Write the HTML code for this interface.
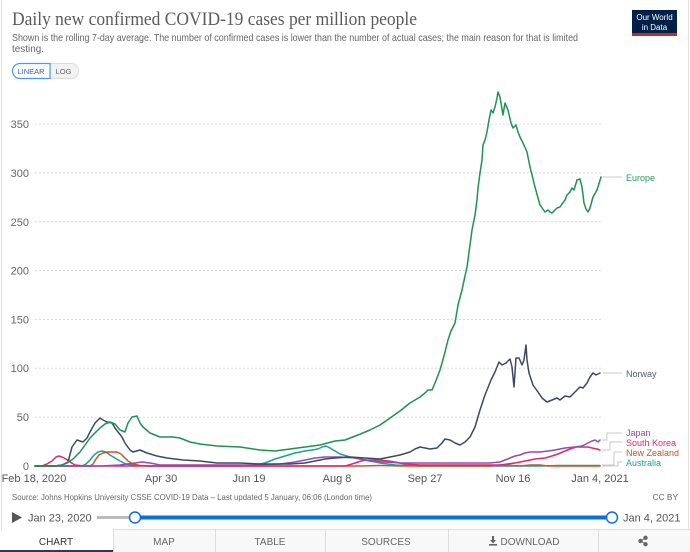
<!DOCTYPE html>
<html><head><meta charset="utf-8">
<style>
html,body{margin:0;padding:0;background:#fff;}
svg{display:block;font-family:"Liberation Sans",sans-serif;}
</style></head>
<body>
<svg width="690" height="552" viewBox="0 0 690 552" xmlns="http://www.w3.org/2000/svg">
<rect x="0" y="0" width="690" height="552" fill="#fff"/>
<line x1="1.5" y1="0" x2="1.5" y2="530" stroke="#e2e2e2" stroke-width="1"/>
<line x1="688.5" y1="0" x2="688.5" y2="530" stroke="#e2e2e2" stroke-width="1"/>

<!-- Header -->
<text x="12" y="25" font-family="Liberation Serif, serif" font-size="19" fill="#5b5b5b" textLength="405" lengthAdjust="spacingAndGlyphs">Daily new confirmed COVID-19 cases per million people</text>
<text x="12" y="41" font-size="10.5" fill="#666" textLength="566" lengthAdjust="spacingAndGlyphs">Shown is the rolling 7-day average. The number of confirmed cases is lower than the number of actual cases; the main reason for that is limited</text>
<text x="12" y="52" font-size="10.5" fill="#666" textLength="32" lengthAdjust="spacingAndGlyphs">testing.</text>

<!-- Logo -->
<rect x="632" y="10" width="45" height="26" fill="#002147"/>
<rect x="632" y="33" width="45" height="3" fill="#ce261e"/>
<text x="654.5" y="20" font-size="8" fill="#fff" text-anchor="middle">Our World</text>
<text x="654.5" y="30" font-size="8" fill="#fff" text-anchor="middle">in Data</text>

<!-- LINEAR / LOG -->
<path d="M50,63.5 H72 a6.5,7.5 0 0 1 6.5,7.5 v0 a6.5,7.5 0 0 1 -6.5,7.5 H50 Z" fill="#f2f2f2" stroke="#ddd" stroke-width="1"/>
<path d="M20,63.5 H50 V78.5 H20 a7.5,7.5 0 0 1 0,-15 Z" fill="#fff" stroke="#4a9bf0" stroke-width="1.2"/>
<text x="31" y="74" font-size="7.5" fill="#3568a8" text-anchor="middle">LINEAR</text>
<text x="63.5" y="74" font-size="7.5" fill="#666" text-anchor="middle">LOG</text>

<!-- Grid -->
<g stroke="#dadada" stroke-width="1" stroke-dasharray="2,2">
<line x1="35" y1="417.2" x2="601" y2="417.2"/>
<line x1="35" y1="368.3" x2="601" y2="368.3"/>
<line x1="35" y1="319.5" x2="601" y2="319.5"/>
<line x1="35" y1="270.6" x2="601" y2="270.6"/>
<line x1="35" y1="221.8" x2="601" y2="221.8"/>
<line x1="35" y1="172.9" x2="601" y2="172.9"/>
<line x1="35" y1="124.1" x2="601" y2="124.1"/>
</g>
<g font-size="11" fill="#666" text-anchor="end">
<text x="29" y="470">0</text>
<text x="29" y="421">50</text>
<text x="29" y="372">100</text>
<text x="29" y="323.5">150</text>
<text x="29" y="274.5">200</text>
<text x="29" y="226">250</text>
<text x="29" y="177">300</text>
<text x="29" y="128">350</text>
</g>
<g font-size="11" fill="#555" text-anchor="middle">
<text x="34" y="482">Feb 18, 2020</text>
<text x="161" y="482">Apr 30</text>
<text x="249" y="482">Jun 19</text>
<text x="337" y="482">Aug 8</text>
<text x="425" y="482">Sep 27</text>
<text x="513" y="482">Nov 16</text>
<text x="600" y="482">Jan 4, 2021</text>
</g>

<!-- Series -->
<g fill="none" stroke-width="1.5" stroke-linejoin="round" stroke-linecap="round">
<polyline stroke="#1fa095" points="35,466 82,466 86,464 90,460 94,455 98,452 102,451 106,452 110,455 115,458 120,461 126,464 135,465.5 150,466 240,466 255,465 265,463 275,459 285,456 295,453 305,451 312,450 318,449 322,447 326,446 330,448 335,451 340,454 350,457 360,459 370,461 380,463 395,465 420,466 540,466 560,465.5 600,465.5"/>
<polyline stroke="#c5552f" points="35,466 90,466 93,464 96,459 99,455 103,453 108,452 113,452 117,452 121,454 124,457 128,461 133,464 140,465.5 150,466 300,466 360,466 380,465.5 400,466 490,466 500,465 505,465 520,466 530,465 540,465 548,466 600,466"/>
<polyline stroke="#dd2a6c" points="35,466 42,466 47,464 52,461 56,457 59,456 62,457 66,459 70,462 75,465 85,466 140,466 200,466 280,466 345,466 352,464 358,462 365,460 372,460 380,460 388,461 395,462 405,464 420,465 460,465 500,465 515,463 525,461 535,459 545,458 552,456 558,454 565,451 570,449 576,447 582,447 588,447 592,448 597,449 600,450"/>
<polyline stroke="#8b4fae" points="35,466 100,466 120,465 135,463 142,462 150,463 160,465 200,465 250,465 280,464 295,462 305,460 315,458 325,457 340,457 355,458 370,461 385,462 400,463 430,463 470,463 490,463 500,462 505,460 510,458 515,456 520,455 525,453 530,452 540,452 548,451 555,450 565,448 575,447 582,446 588,443 592,441 595,440 598,442 600,440"/>
<polyline stroke="#3b4a63" points="35,466 55,466 62,465 66,463 68,462 72,447 77,440 80,441 83,442 87,438 90,432 95,423 100,418 103,420 107,422 112,423 115,428 118,432 122,437 125,443 130,450 133,452 140,450 147,453 157,456 167,458 183,460 200,461 217,463 240,463 260,464 290,464 305,463 315,461 325,459 335,458 350,457 365,458 380,459 390,457 400,455 410,452 415,449 420,447 425,448 430,449 437,448 442,443 445,439 450,440 455,443 460,445 465,442 470,437 475,427 480,410 485,395 491,380 495,372 499,362 502,365 506,363 510,359 512,367 514,387 516,358 519,358 522,365 524,360 526,345 527,360 529,373 533,385 538,392 542,398 547,402 552,400 557,398 560,400 565,396 570,397 575,392 580,387 583,388 587,383 590,377 593,373 596,375 600,373"/>
<polyline stroke="#1f9250" points="35,466 55,466 62,465 67,463 73,459 80,452 85,445 90,438 95,433 100,428 105,424 110,422 115,424 120,430 125,432 128,423 132,417 137,416 140,423 143,427 150,433 160,437 173,437 180,438 190,442 200,444 217,446 240,447 260,450 275,451 290,449 305,447 320,445 335,441 345,440 358,435 370,430 380,425 390,418 400,411 410,403 415,400 420,397 425,393 428,390 432,390 435,383 440,370 442,363 445,352 448,340 451,331 455,323 458,305 462,290 465,276 467,267 470,245 472,230 475,215 477,200 478,188 480,173 482,160 483,145 485,140 487,132 489,120 491,110 493,113 495,107 497,98 498,92 500,97 501,103 503,115 505,103 508,110 511,123 513,128 516,125 518,132 520,137 523,143 527,152 530,167 535,187 540,205 545,212 548,210 550,212 552,213 555,210 557,208 560,207 562,204 565,200 567,195 570,192 572,188 574,190 577,180 580,179 582,187 584,203 586,209 588,212 590,208 593,197 597,190 601,177"/>
</g>

<!-- Legend connectors -->
<g fill="none" stroke="#c8c8c8" stroke-width="1">
<polyline points="603,177 622,177"/>
<polyline points="603,373 622,373"/>
<polyline points="602,440 607,440 607,433 622,433"/>
<polyline points="602,450 610,450 610,442 622,442"/>
<polyline points="602,465 614,465 614,452 622,452"/>
<polyline points="602,466 618,466 618,462 622,462"/>
</g>
<g font-size="9">
<text x="626" y="181" fill="#2a9a5c">Europe</text>
<text x="626" y="377" fill="#555d6e">Norway</text>
<text x="626" y="436" fill="#8b4fae">Japan</text>
<text x="626" y="446" fill="#dd2a6c">South Korea</text>
<text x="626" y="456" fill="#c5552f">New Zealand</text>
<text x="626" y="466" fill="#1fa095">Australia</text>
</g>

<!-- Source -->
<text x="12" y="500" font-size="8.3" fill="#666" textLength="360" lengthAdjust="spacingAndGlyphs">Source: Johns Hopkins University CSSE COVID-19 Data – Last updated 5 January, 06:06 (London time)</text>
<text x="678" y="500" font-size="8.3" fill="#666" text-anchor="end">CC BY</text>

<!-- Timeline -->
<path d="M12,512 L22,517.5 L12,523 Z" fill="#555"/>
<text x="28" y="521.5" font-size="11" fill="#555">Jan 23, 2020</text>
<line x1="97" y1="517.5" x2="135" y2="517.5" stroke="#bbb" stroke-width="3"/>
<line x1="135" y1="517.5" x2="612" y2="517.5" stroke="#0b6fd8" stroke-width="4"/>
<circle cx="135" cy="517.5" r="5.5" fill="#fff" stroke="#0b6fd8" stroke-width="1.5"/>
<circle cx="612" cy="517.5" r="5.5" fill="#fff" stroke="#0b6fd8" stroke-width="1.5"/>
<text x="623" y="521.5" font-size="11" fill="#555">Jan 4, 2021</text>

<!-- Tabs -->
<rect x="113" y="529.5" width="577" height="23" fill="#f8f8f8"/>
<line x1="113" y1="529.5" x2="690" y2="529.5" stroke="#ddd"/>
<g stroke="#ddd">
<line x1="113.5" y1="529.5" x2="113.5" y2="552"/>
<line x1="215.5" y1="529.5" x2="215.5" y2="552"/>
<line x1="325.5" y1="529.5" x2="325.5" y2="552"/>
<line x1="448.5" y1="529.5" x2="448.5" y2="552"/>
<line x1="598.5" y1="529.5" x2="598.5" y2="552"/>
</g>
<rect x="0" y="550" width="113" height="2" fill="#2d3b4e"/>
<g font-size="10" text-anchor="middle">
<text x="56" y="545" fill="#333">CHART</text>
<text x="164" y="545" fill="#666">MAP</text>
<text x="270" y="545" fill="#666">TABLE</text>
<text x="386" y="545" fill="#666">SOURCES</text>
<text x="530" y="545" fill="#666">DOWNLOAD</text>
</g>
<!-- download icon -->
<g fill="#666">
<rect x="492" y="536" width="2" height="5"/>
<path d="M490,540 L496,540 L493,543.5 Z"/>
<rect x="489" y="544" width="8" height="1.6"/>
</g>
<!-- share icon -->
<g fill="#666" stroke="#666" stroke-width="1">
<line x1="640.5" y1="541" x2="645.5" y2="538"/>
<line x1="640.5" y1="541" x2="645.5" y2="544"/>
<circle cx="640.5" cy="541" r="1.7"/>
<circle cx="645.5" cy="537.8" r="1.7"/>
<circle cx="645.5" cy="544.2" r="1.7"/>
</g>
</svg>
</body></html>
